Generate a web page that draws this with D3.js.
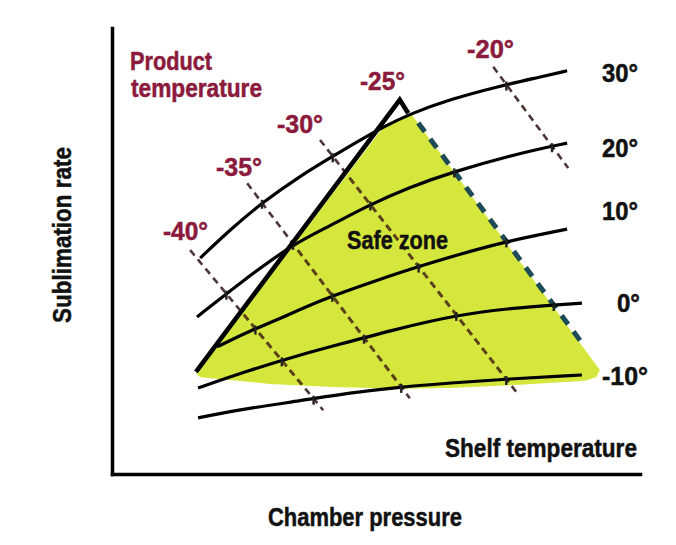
<!DOCTYPE html>
<html><head><meta charset="utf-8">
<script src="https://cdn.jsdelivr.net/npm/d3@7"></script>
<style>
html,body{margin:0;padding:0;background:#fff;}
svg{display:block;}
text{font-family:"Liberation Sans","Arial","Helvetica",sans-serif;font-weight:bold;}
</style></head><body>
<svg id="chart" width="676" height="545"></svg>
<script>
// ---------- DATA (arbitrary units: chamber pressure 0-100, sublimation rate 0-100) ----------
const shelfTempLabels = ["30°", "20°", "10°", "0°", "-10°"];
const shelf30    = [[16.7,48.4],[22.3,54.7],[28.6,61.0],[35.6,66.8],[41.9,71.3],[47.0,74.9],[51.7,78.0],[56.4,80.7],[64.0,84.0],[73.5,87.0],[81.1,89.0],[86.2,90.4]];
const shelf20    = [[16.1,35.2],[24.2,42.8],[34.3,51.6],[41.3,55.6],[48.3,60.1],[56.4,64.3],[64.4,67.7],[77.3,72.0],[86.2,74.2]];
const shelf10    = [[19.9,28.5],[26.1,32.1],[31.8,34.8],[39.4,39.0],[50.8,43.7],[58.3,46.6],[65.9,49.3],[74.8,52.2],[86.2,54.9]];
const shelf0     = [[16.3,19.3],[26.1,23.3],[35.6,26.7],[41.9,28.7],[53.2,32.3],[65.3,35.7],[77.3,37.4],[89.0,38.3]];
const shelfM10   = [[16.3,12.6],[26.1,14.8],[35.6,16.4],[45.1,18.2],[54.5,19.5],[64.0,20.4],[74.8,21.3],[89.0,22.2]];

const productTempLabels = ["-40°", "-35°", "-30°", "-25°", "-20°"];
const productM40 = [[14.8,50.2],[40.0,14.3]];
const productM35 = [[25.6,65.2],[56.4,17.0]];
const productM30 = [[39.4,74.9],[76.7,18.2]];
const productM25 = [[58.0,78.7],[89.0,29.4]];   // collapse-temperature edge of the safe zone
const productM20 = [[72.2,91.3],[86.4,68.6]];

const safeZone = [[15.9,22.6],[51.7,78.3],[54.5,79.8],[56.8,80.5],[92.4,23.3],[91.7,21.7],[89.6,20.9],[77.3,20.0],[64.0,19.3],[54.5,19.1],[41.9,19.5],[29.9,20.2],[22.3,21.1],[16.7,21.7]];
const chokedFlowEdge = [[15.9,22.9],[54.5,83.9],[56.1,80.9]];

// ---------- LAYOUT ----------
const svg = d3.select("#chart");
const x = d3.scaleLinear().domain([0,100]).range([112,640]);
const y = d3.scaleLinear().domain([0,100]).range([474,28]);
const P = d => [x(d[0]), y(d[1])];

const C = {fill:"#d5e63c", red:"#8b1a3c", dashOut:"#4d3636", dashIn:"#5e4416", teal:"#1d4b56"};

// safe zone
const poly = d3.line().x(d=>x(d[0])).y(d=>y(d[1])).curve(d3.curveLinearClosed);
svg.append("defs").append("clipPath").attr("id","zoneClip")
  .append("path").attr("d", poly(safeZone));
svg.append("path").attr("d", poly(safeZone)).attr("fill", C.fill);

// axes (domain lines only)
const gx = svg.append("g").attr("transform",`translate(0,${y(0)})`)
  .call(d3.axisBottom(x).tickValues([]).tickSizeOuter(0));
const gy = svg.append("g").attr("transform",`translate(${x(0)},0)`)
  .call(d3.axisLeft(y).tickValues([]).tickSizeOuter(0));
[gx,gy].forEach(g=>g.select(".domain").attr("stroke","#000").attr("stroke-width",3.5).attr("stroke-linecap","square"));

// product temperature dashed lines
const seg = d3.line().x(d=>x(d[0])).y(d=>y(d[1]));
const productLines = [productM40, productM35, productM30, productM20];
svg.selectAll(".prodOut").data(productLines).join("path")
  .attr("d", seg).attr("fill","none").attr("stroke",C.dashOut)
  .attr("stroke-width",2.6).attr("stroke-dasharray","7,5");
svg.append("g").attr("clip-path","url(#zoneClip)")
  .selectAll("path").data(productLines).join("path")
  .attr("d", seg).attr("fill","none").attr("stroke",C.dashIn)
  .attr("stroke-width",2.8).attr("stroke-dasharray","7,5");
svg.append("path").attr("d", seg(productM25)).attr("fill","none")
  .attr("stroke",C.teal).attr("stroke-width",5).attr("stroke-dasharray","11,9");

// shelf temperature curves
const shelfCurves = [shelf30, shelf20, shelf10, shelf0, shelfM10];
const curve = d3.line().x(d=>x(d[0])).y(d=>y(d[1])).curve(d3.curveBasis);
svg.selectAll(".shelf").data(shelfCurves).join("path")
  .attr("d", curve).attr("fill","none").attr("stroke","#000").attr("stroke-width",3.2);

// small crossing ticks
function inter(a,b,c,d){
  const r=[b[0]-a[0],b[1]-a[1]], s=[d[0]-c[0],d[1]-c[1]];
  const den=r[0]*s[1]-r[1]*s[0]; if(Math.abs(den)<1e-9) return null;
  const t=((c[0]-a[0])*s[1]-(c[1]-a[1])*s[0])/den;
  const u=((c[0]-a[0])*r[1]-(c[1]-a[1])*r[0])/den;
  return (t>=0&&t<=1&&u>=0&&u<=1)?[a[0]+t*r[0],a[1]+t*r[1]]:null;
}
const ticks=[];
[productM40,productM35,productM30,productM25,productM20].forEach(pl=>{
  const a=P(pl[0]), b=P(pl[1]);
  shelfCurves.forEach(sc=>{
    for(let i=0;i<sc.length-1;i++){const p=inter(a,b,P(sc[i]),P(sc[i+1])); if(p){ticks.push(p);break;}}
  });
});
svg.selectAll(".tick2").data(ticks).join("line")
  .attr("x1",d=>d[0]).attr("x2",d=>d[0]).attr("y1",d=>d[1]-3).attr("y2",d=>d[1]+6)
  .attr("stroke","#222").attr("stroke-width",2.4);

// thick boundary
svg.append("path").attr("d", seg(chokedFlowEdge)).attr("fill","none")
  .attr("stroke","#000").attr("stroke-width",4.6).attr("stroke-linejoin","miter");

// ---------- TEXT ----------
// condensed bold look: natural glyphs squeezed horizontally to the measured width
function label(str, px, py, w, size, color, rot){
  const g = svg.append("g").attr("transform",`translate(${px},${py})` + (rot?` rotate(${rot})`:""));
  const t = g.append("text").attr("font-size",size).attr("fill",color)
    .attr("stroke",color).attr("stroke-width",0.5)
    .attr("text-anchor", rot ? "middle" : "start").text(str);
  const w0 = t.node().getComputedTextLength();
  t.attr("transform",`scale(${w/w0},1)`);
  return t;
}
const productPos = [[163,240,45],[216,176,46],[277,133,46],[360,90,45],[467,58,47]];
productTempLabels.forEach((s,i)=>label(s,productPos[i][0],productPos[i][1],productPos[i][2],25,C.red));
const shelfPos = [[602,82,36],[602,157,36],[602,220,36],[617,312,23],[602,385,46]];
shelfTempLabels.forEach((s,i)=>label(s,shelfPos[i][0],shelfPos[i][1],shelfPos[i][2],25,"#111"));

label("Product",130,70,82,25,C.red);
label("temperature",131,97,131,25,C.red);
label("Safe zone",347,249,101,26,"#111");
label("Shelf temperature",445,457,192,26,"#111");
label("Chamber pressure",268,526,194,26,"#111");
label("Sublimation rate",71,235,176,26,"#111",-90);
</script>
</body></html>
